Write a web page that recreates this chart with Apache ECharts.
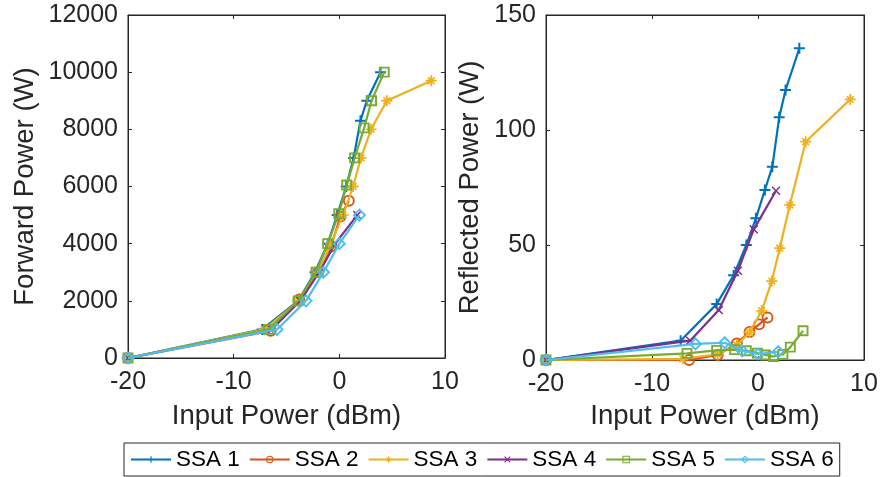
<!DOCTYPE html>
<html>
<head>
<meta charset="utf-8">
<script src="https://cdn.jsdelivr.net/npm/echarts@6/dist/echarts.min.js"></script>
<style>
html,body{margin:0;padding:0;background:#fff;}
#chart{width:881px;height:477px;}
</style>
</head>
<body>
<div id="chart"></div>
<script>
// ---- Data ----
const seriesNames = ['SSA 1', 'SSA 2', 'SSA 3', 'SSA 4', 'SSA 5', 'SSA 6'];

const inputSSA1 = [-20, -7.3, -3.9, -2.3, -1.1, -0.2, 0.65, 1.35, 2.0, 2.6, 3.9];
const forwardSSA1 = [0, 1000, 2000, 3000, 4000, 5000, 6000, 7000, 8300, 9000, 10000];
const reflectedSSA1 = [0, 8.4, 24.3, 36.8, 50, 61.6, 73.9, 84, 105.5, 117.4, 135.5];

const inputSSA2 = [-20, -6.5, -3.8, -2.0, -0.8, 0.1, 0.9];
const forwardSSA2 = [0, 950, 2050, 3000, 3900, 4950, 5500];
const reflectedSSA2 = [0, 0, 2.2, 7.2, 12.2, 15.5, 18.5];

const inputSSA3 = [-20, -7.1, -3.8, -2.0, -0.8, 0.35, 1.3, 2.05, 3.0, 4.5, 8.7];
const forwardSSA3 = [0, 1000, 2000, 3000, 4000, 5000, 6000, 7000, 8000, 9000, 9700];
const reflectedSSA3 = [0, 0.5, 2.5, 6.5, 12, 21.4, 34.3, 48.6, 67.4, 94.9, 113.3];

const inputSSA4 = [-20, -6.4, -3.7, -1.9, -0.4, 1.7];
const forwardSSA4 = [0, 1000, 2000, 3000, 4000, 5000];
const reflectedSSA4 = [0, 8.4, 21.7, 38.8, 56.8, 73.6];

const inputSSA5 = [-20, -6.7, -3.9, -2.2, -1.1, -0.05, 0.7, 1.45, 2.35, 3.05, 4.25];
const forwardSSA5 = [0, 1000, 2000, 3000, 4000, 5050, 6050, 7000, 8050, 9000, 10000];
const reflectedSSA5 = [0, 2.9, 4.2, 4.5, 4.0, 3.0, 2.2, 1.5, 2.4, 5.6, 12.7];

const inputSSA6 = [-20, -5.9, -3.15, -1.5, 0, 1.9];
const forwardSSA6 = [0, 1000, 2000, 3000, 4000, 5000];
const reflectedSSA6 = [0, 7.0, 7.5, 4.0, 2.6, 3.6];

const xTicks = [-20, -10, 0, 10];
const forwardTicks = [0, 2000, 4000, 6000, 8000, 10000, 12000];
const reflectedTicks = [0, 50, 100, 150];

// ---- Styling ----
const colors = ['#0072BD', '#D95319', '#EDB120', '#7E2F8E', '#77AC30', '#4DBEEE'];
const plusPath = 'path://M4.1,0H5.9V4.1H10V5.9H5.9V10H4.1V5.9H0V4.1H4.1Z';
const crossPath = 'path://M0,1.2L1.2,0L10,8.8L8.8,10Z M8.8,0L10,1.2L1.2,10L0,8.8Z';
const starPath = 'path://M4.2,0H5.8V4.2H10V5.8H5.8V10H4.2V5.8H0V4.2H4.2Z M1.4,2.5L2.5,1.4L8.6,7.5L7.5,8.6Z M7.5,1.4L8.6,2.5L2.5,8.6L1.4,7.5Z';
const markers = [
  {symbol: plusPath, size: 11, hollow: false},
  {symbol: 'circle', size: 10, hollow: true},
  {symbol: starPath, size: 11, hollow: false},
  {symbol: crossPath, size: 9, hollow: false},
  {symbol: 'rect', size: 9, hollow: true},
  {symbol: 'diamond', size: 11, hollow: true}
];

const inputs = [inputSSA1, inputSSA2, inputSSA3, inputSSA4, inputSSA5, inputSSA6];
const forwards = [forwardSSA1, forwardSSA2, forwardSSA3, forwardSSA4, forwardSSA5, forwardSSA6];
const reflecteds = [reflectedSSA1, reflectedSSA2, reflectedSSA3, reflectedSSA4, reflectedSSA5, reflectedSSA6];

const FONT = 'Liberation Sans, Arial, Helvetica, sans-serif';
const AX = '#262626';

function pairs(xs, ys) { return xs.map((x, i) => [x, ys[i]]); }

function styleFor(i, bw) {
  const m = markers[i];
  const c = colors[i];
  return m.hollow
    ? {color: 'rgba(255,255,255,0)', borderColor: c, borderWidth: bw}
    : {color: c, borderWidth: 0};
}

function makeSeries(i, data, xi, yi) {
  const m = markers[i];
  const c = colors[i];
  return {
    name: seriesNames[i],
    type: 'line',
    xAxisIndex: xi,
    yAxisIndex: yi,
    data: data,
    symbol: m.symbol,
    symbolSize: m.size,
    showAllSymbol: true,
    lineStyle: {color: c, width: 2.2},
    itemStyle: styleFor(i, 1.9),
    emphasis: {disabled: true},
    animation: false,
    z: 2 + i
  };
}

const series = [];
for (let i = 0; i < 6; i++) series.push(makeSeries(i, pairs(inputs[i], forwards[i]), 0, 0));
for (let i = 0; i < 6; i++) series.push(makeSeries(i, pairs(inputs[i], reflecteds[i]), 2, 2));

const plain = v => String(v);

function xAxisDef(grid, pos, showLabel, name, nameGap) {
  return {
    type: 'value', gridIndex: grid, position: pos,
    min: xTicks[0], max: xTicks[xTicks.length - 1], interval: 10,
    axisLine: {show: true, onZero: false, lineStyle: {color: AX, width: 1}},
    axisTick: {show: true, inside: true, length: 4, lineStyle: {color: AX}},
    axisLabel: {show: showLabel, color: AX, fontSize: 25, fontFamily: FONT, margin: 12, formatter: plain},
    splitLine: {show: false},
    name: name, nameLocation: 'middle', nameGap: nameGap,
    nameTextStyle: {color: AX, fontSize: 27.5, fontFamily: FONT}
  };
}
function yAxisDef(grid, pos, ticks, showLabel, name, nameGap) {
  return {
    type: 'value', gridIndex: grid, position: pos,
    min: ticks[0], max: ticks[ticks.length - 1], interval: ticks[1] - ticks[0],
    axisLine: {show: true, onZero: false, lineStyle: {color: AX, width: 1}},
    axisTick: {show: true, inside: true, length: 4, lineStyle: {color: AX}},
    axisLabel: {show: showLabel, color: AX, fontSize: 25, fontFamily: FONT, margin: 10, formatter: plain},
    splitLine: {show: false},
    name: name, nameLocation: 'middle', nameGap: nameGap, nameRotate: 90,
    nameTextStyle: {color: AX, fontSize: 27.5, fontFamily: FONT}
  };
}

const option = {
  backgroundColor: '#ffffff',
  animation: false,
  grid: [
    {left: 128, top: 15, width: 317, height: 343, show: true, borderColor: AX, borderWidth: 1},
    {left: 546, top: 15, width: 318, height: 345, show: true, borderColor: AX, borderWidth: 1}
  ],
  xAxis: [
    xAxisDef(0, 'bottom', true, 'Input Power (dBm)', 44),
    xAxisDef(0, 'top', false, '', 0),
    xAxisDef(1, 'bottom', true, 'Input Power (dBm)', 42),
    xAxisDef(1, 'top', false, '', 0)
  ],
  yAxis: [
    yAxisDef(0, 'left', forwardTicks, true, 'Forward Power (W)', 89),
    yAxisDef(0, 'right', forwardTicks, false, '', 0),
    yAxisDef(1, 'left', reflectedTicks, true, 'Reflected Power (W)', 62),
    yAxisDef(1, 'right', reflectedTicks, false, '', 0)
  ],
  legend: {
    data: seriesNames.map((n, i) => ({
      name: n,
      itemStyle: styleFor(i, 1.1)
    })),
    left: 124, top: 443,
    orient: 'horizontal',
    itemWidth: 40, itemHeight: 8, itemGap: 9,
    padding: [4, 6, 4, 6],
    borderColor: AX, borderWidth: 1,
    backgroundColor: '#fff',
    textStyle: {color: '#000', fontSize: 22.5, fontFamily: FONT, lineHeight: 25},
    selectedMode: false
  },
  series: series
};

const chart = echarts.init(document.getElementById('chart'), null, {renderer: 'canvas'});
chart.setOption(option);
</script>
</body>
</html>
